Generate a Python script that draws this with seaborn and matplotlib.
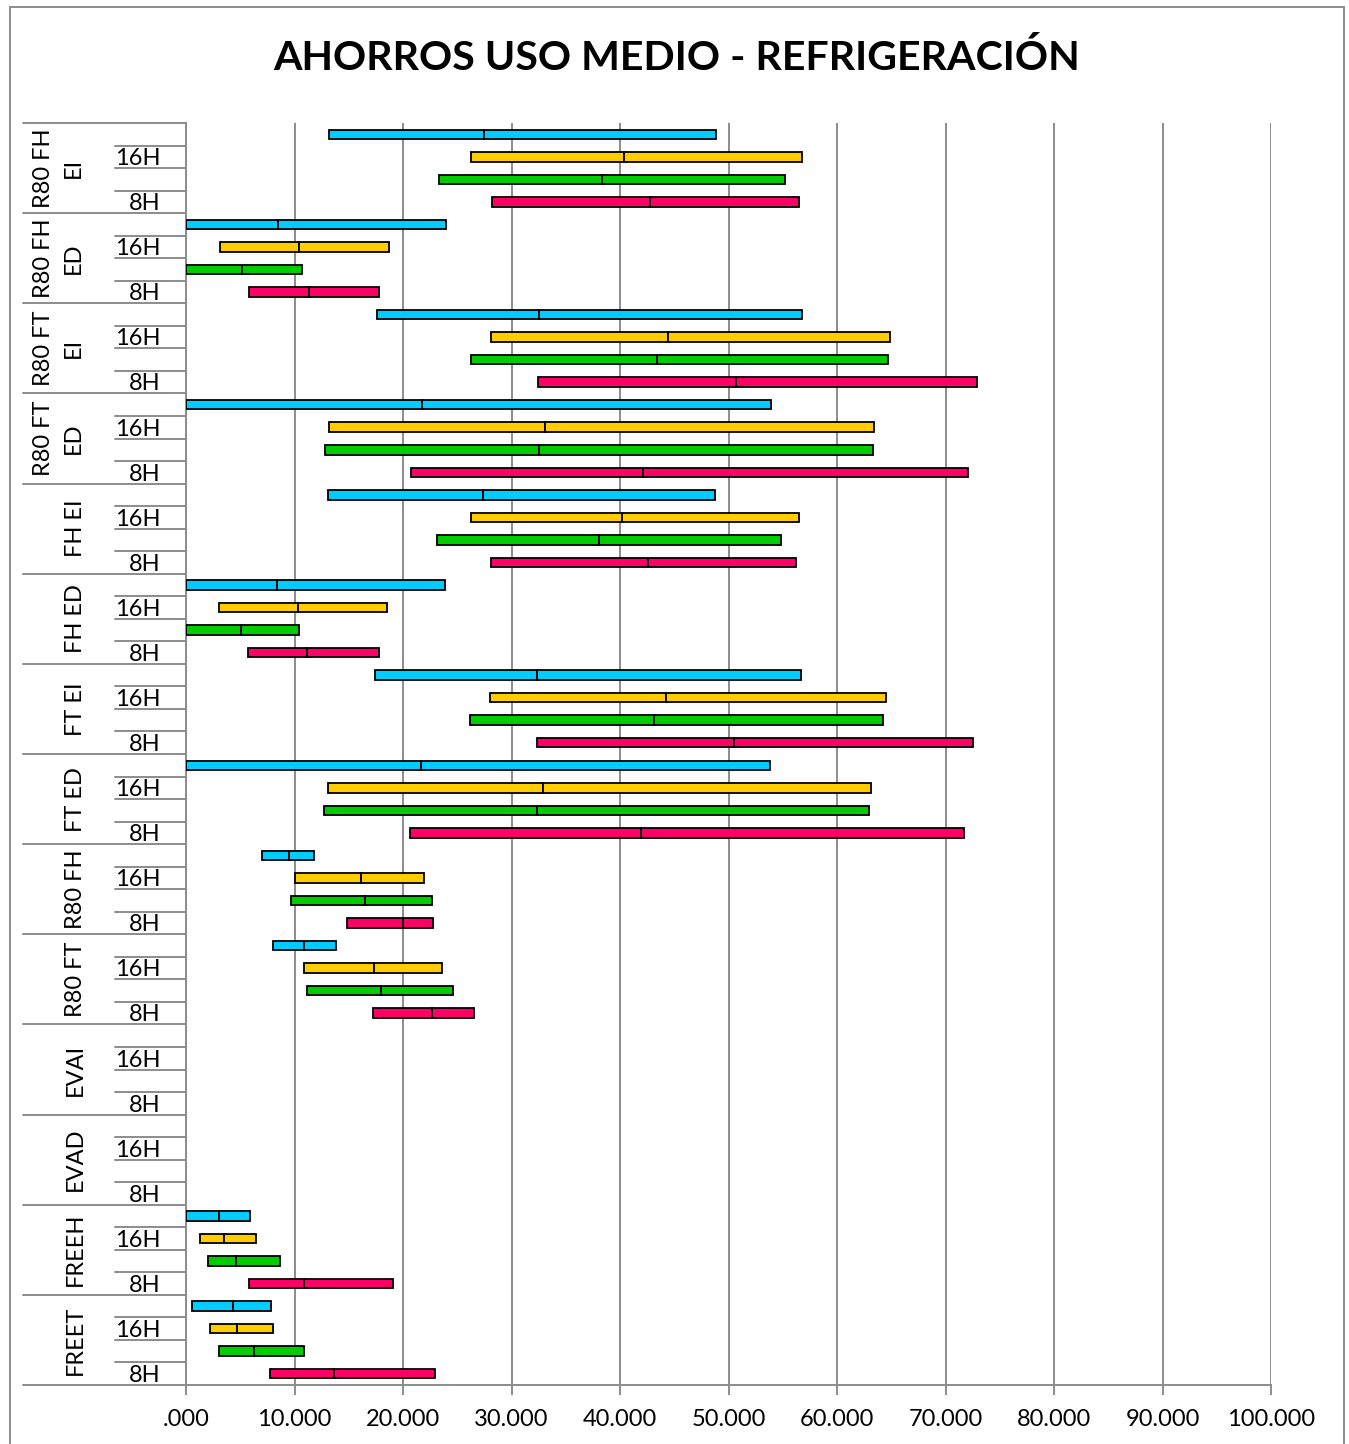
import numpy as np
import pandas as pd
import matplotlib
matplotlib.use("Agg")
import matplotlib.pyplot as plt
import matplotlib.transforms as mtransforms
from matplotlib.lines import Line2D
import seaborn as sns

nan = np.nan

# Equipment groups (top to bottom) and the per-group shift labels
groups = ["R80 FH\nEI", "R80 FH\nED", "R80 FT\nEI", "R80 FT\nED", "FH EI", "FH ED",
          "FT EI", "FT ED", "R80 FH", "R80 FT", "EVAI", "EVAD", "FREEH", "FREET"]
shift_labels = ["", "16H", "", "8H"]

# Savings ranges per series: minimum, medium and maximum value
blue_low = [13.20, 0.00, 17.63, 0.00, 13.11, 0.00, 17.44, 0.00, 7.05, 8.06, nan, nan, 0.00, 0.59]
blue_mid = [27.43, 8.47, 32.51, 21.78, 27.38, 8.40, 32.36, 21.66, 9.45, 10.92, nan, nan, 3.02, 4.37]
blue_high = [48.84, 23.93, 56.77, 53.95, 48.72, 23.84, 56.65, 53.79, 11.82, 13.82, nan, nan, 5.91, 7.88]

yellow_low = [26.30, 3.15, 28.08, 13.20, 26.24, 3.08, 28.02, 13.11, 10.00, 10.83, nan, nan, 1.27, 2.19]
yellow_mid = [40.41, 10.40, 44.47, 33.10, 40.23, 10.28, 44.26, 32.91, 16.12, 17.29, nan, nan, 3.54, 4.71]
yellow_high = [56.80, 18.74, 64.89, 63.45, 56.50, 18.52, 64.52, 63.11, 21.94, 23.63, nan, nan, 6.47, 8.03]

green_low = [23.29, 0.00, 26.30, 12.83, 23.16, 0.00, 26.18, 12.74, 9.67, 11.14, nan, nan, 2.07, 3.05]
green_mid = [38.30, 5.17, 43.37, 32.51, 38.08, 5.05, 43.15, 32.32, 16.46, 18.00, nan, nan, 4.65, 6.25]
green_high = [55.20, 10.65, 64.68, 63.29, 54.87, 10.40, 64.28, 62.92, 22.68, 24.58, nan, nan, 8.68, 10.92]

pink_low = [28.21, 5.82, 32.45, 20.77, 28.12, 5.76, 32.39, 20.67, 14.80, 17.26, nan, nan, 5.82, 7.70]
pink_mid = [42.75, 11.33, 50.68, 42.08, 42.56, 11.17, 50.53, 41.89, 19.96, 22.70, nan, nan, 10.83, 13.66]
pink_high = [56.50, 17.81, 72.89, 72.08, 56.19, 17.75, 72.52, 71.72, 22.73, 26.58, nan, nan, 19.04, 22.92]

series = [
    ("#00CCFF", blue_low, blue_mid, blue_high),
    ("#FFCC00", yellow_low, yellow_mid, yellow_high),
    ("#00CC00", green_low, green_mid, green_high),
    ("#FF0066", pink_low, pink_mid, pink_high),
]

x_ticks = list(range(0, 101, 10))
x_tick_labels = [".000"] + [f"{v}.000" for v in x_ticks[1:]]
title = "AHORROS USO MEDIO - REFRIGERACIÓN"

n_rows = len(groups) * len(shift_labels)
row_ids = [str(i) for i in range(n_rows)]

sns.set_theme(style="white")
plt.rcParams["font.family"] = ["Lato", "DejaVu Sans"]

W, H = 1349, 1444
fig = plt.figure(figsize=(W / 100, H / 100), dpi=100)
ax = fig.add_axes([186 / W, 1 - 1385 / H, (1271 - 186) / W, (1385 - 123) / H])

GRID = "#8c8c8c"

# Each bar is split into two segments (low -> mid, mid -> high)
for k, (color, lows, mids, highs) in enumerate(series):
    for starts, ends in ((lows, mids), (mids, highs)):
        recs = []
        for g in range(len(groups)):
            if np.isnan(starts[g]):
                continue
            recs.append({"row": str(g * 4 + k), "start": starts[g], "end": ends[g]})
        df = pd.DataFrame(recs)
        start_of = dict(zip(df["row"].astype(int), df["start"]))
        n_before = len(ax.patches)
        sns.barplot(data=df, x="end", y="row", order=row_ids, orient="h",
                    color=color, saturation=1, width=0.42, errorbar=None,
                    edgecolor="black", linewidth=1.3, ax=ax, zorder=3)
        for p in ax.patches[n_before:]:
            r = int(round(p.get_y() + p.get_height() / 2))
            s = start_of[r]
            e = p.get_width()
            p.set_x(s)
            p.set_width(e - s)

ax.set_xlim(0, 100)
ax.set_ylim(n_rows - 0.5, -0.5)
ax.set_xticks(x_ticks)
ax.set_xticklabels(x_tick_labels, fontsize=17, color="black")
ax.set_yticks([])
ax.set_xlabel("")
ax.set_ylabel("")
ax.xaxis.grid(True, color=GRID, linewidth=1.4, zorder=0)
ax.yaxis.grid(False)
ax.set_axisbelow(True)
for side in ("top", "right"):
    ax.spines[side].set_visible(False)
for side in ("left", "bottom"):
    ax.spines[side].set_color(GRID)
    ax.spines[side].set_linewidth(1.4)
ax.tick_params(axis="x", length=7, width=1.4, color=GRID, pad=10, bottom=True)

# Multi-level category axis on the left
trans = mtransforms.blended_transform_factory(fig.transFigure, ax.transData)
for g in range(len(groups) + 1):
    y = g * 4 - 0.5
    fig.add_artist(Line2D([23 / W, 186 / W], [y, y], transform=trans,
                          color=GRID, linewidth=1.4))
for g in range(len(groups)):
    for k in range(1, 4):
        y = g * 4 + k - 0.5
        fig.add_artist(Line2D([115 / W, 186 / W], [y, y], transform=trans,
                              color=GRID, linewidth=1.4))
    for k, lab in enumerate(shift_labels):
        if lab:
            fig.text(161 / W, g * 4 + k + 0.37, lab, transform=trans, ha="right",
                     va="baseline", fontsize=17, color="black")
    name = groups[g]
    xc = 58.5 if "\n" in name else 75
    fig.text(xc / W, g * 4 + 1.5, name, transform=trans, rotation=90,
             ha="center", va="center", multialignment="center",
             fontsize=17, color="black", linespacing=1.5)

# Chart frame
fig.add_artist(Line2D([10 / W, 10 / W], [0, 1 - 7 / H], color=GRID, linewidth=1.4))
fig.add_artist(Line2D([1344 / W, 1344 / W], [0, 1 - 7 / H], color=GRID, linewidth=1.4))
fig.add_artist(Line2D([10 / W, 1344 / W], [1 - 7 / H, 1 - 7 / H], color=GRID, linewidth=1.4))

fig.text(677 / W, 1 - 58 / H, title, ha="center", va="center",
         fontsize=29.6, fontweight="bold", color="black")

fig.savefig("out.png", dpi=100, facecolor="white")
